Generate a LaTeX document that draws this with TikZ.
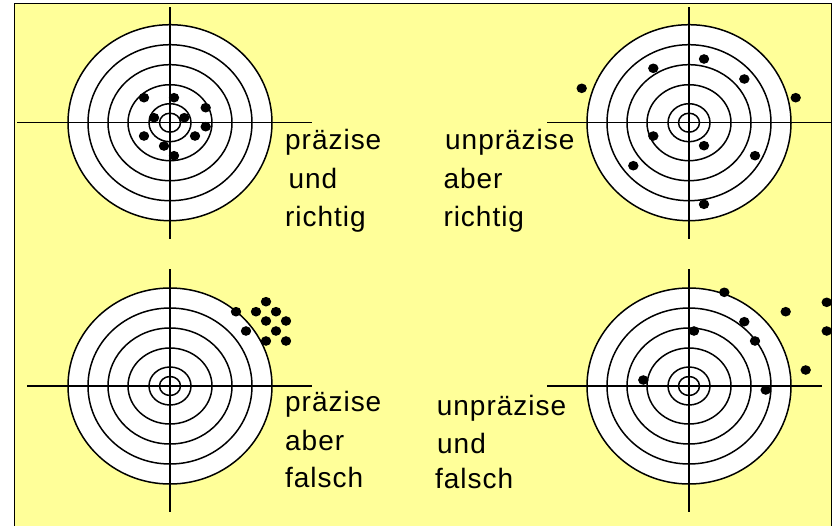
\documentclass[tikz,border=0pt]{standalone}
\usepackage{fontspec}
\setmainfont{Liberation Sans}
\begin{document}
\begin{tikzpicture}[x=1pt,y=-1pt,
  ring/.style={draw=black,line width=1.5pt},
  hair/.style={draw=black,line width=1.5pt},
  hit/.style={fill=black},
  lbl/.style={anchor=base west,inner sep=0pt,text=black,
    font=\addfontfeature{LetterSpace=3.5}\fontsize{28}{28}\selectfont},
  target/.pic={
    \fill[white] (0,0) ellipse [x radius=102pt,y radius=98pt];
    \foreach \rx/\ry in {102/98,82/78,62/58,42/38,21/19,10.5/9.5}
      \draw[ring] (0,0) ellipse [x radius=\rx pt,y radius=\ry pt];
  }]
\useasboundingbox (0,0) rectangle (834,525);
% background panel
\filldraw[fill={rgb,255:red,255;green,255;blue,153},draw=black,line width=1.5pt]
  (14.5,3.5) rectangle (831.5,528);

% the four targets
\pic at (170,122.7) {target};
\pic at (689,122.7) {target};
\pic at (170,386) {target};
\pic at (689,386) {target};

% crosshairs
\draw[hair] (17,122.7) -- (312,122.7);
\draw[hair] (170,7) -- (170,239);
\draw[hair] (547,122.7) -- (831.5,122.7);
\draw[hair] (689,7) -- (689,239);
\draw[hair] (27,386) -- (312,386);
\draw[hair] (170,269) -- (170,512);
\draw[hair] (547,386) -- (822,386);
\draw[hair] (689,269) -- (689,512);

% hits
\foreach \x/\y in {144/97.7,174/97.7,205.7/107.7,154/117.7,184.3/117.7,
                   205.7/126.7,144/136,195/136,164/146,174/155.7,
                   581.7/88.3,653.3/68.3,704/59,744.3/79,795.7/97.7,
                   653.3/136,704/145.7,755/155.7,633.3/165.7,704/204.3,
                   236/311.7,266/301.7,256/311.7,276/311.7,266/321,
                   286/321,246/331,276/331,266/341,286/341,
                   724.3/292.3,826.7/302.3,785.7/311.7,744.3/321.7,826.7/331,
                   694/331,755/341,805.7/370,643.3/380,765.7/390}
  \fill[hit] (\x,\y) ellipse [x radius=5.2pt,y radius=4.8pt];

% labels
\node[lbl] (t1a) at (285,149) {präzise};
\node[lbl] (t1b) at (288.3,188) {und};
\node[lbl] (t1c) at (285,226) {richtig};
\node[lbl] (t2a) at (445,149) {unpräzise};
\node[lbl] (t2b) at (443.3,188) {aber};
\node[lbl] (t2c) at (443.3,226) {richtig};
\node[lbl] (t3a) at (285,411.7) {präzise};
\node[lbl] (t3b) at (285,450) {aber};
\node[lbl] (t3c) at (285,487.3) {falsch};
\node[lbl] (t4a) at (436.7,415) {unpräzise};
\node[lbl] (t4b) at (437,453.3) {und};
\node[lbl] (t4c) at (435,488) {falsch};
\end{tikzpicture}
\end{document}
